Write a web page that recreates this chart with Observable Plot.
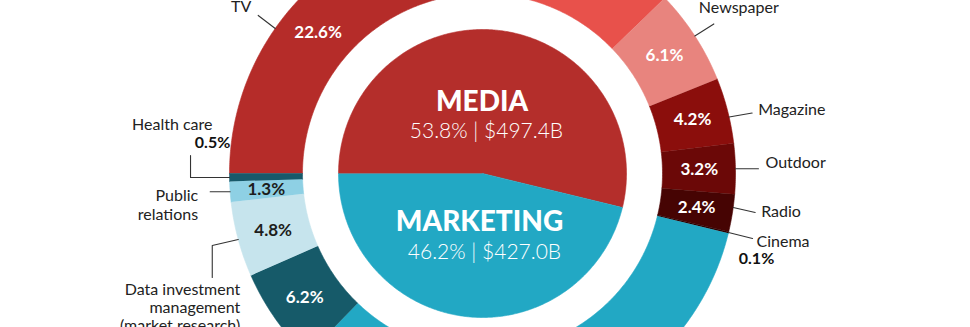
<!DOCTYPE html>
<html>
<head>
<meta charset="utf-8">
<script src="https://cdn.jsdelivr.net/npm/d3@7"></script>
<script src="https://cdn.jsdelivr.net/npm/@observablehq/plot@0.6"></script>
<style>
html,body{margin:0;padding:0;background:#fff;overflow:hidden}
#chart svg{display:block}
</style>
</head>
<body>
<div id="chart"></div>
<script>
// ---------- data ----------
const groupNames = ["MEDIA", "MARKETING"];
const groupShares = [53.8, 46.2];
const groupValues = ["$497.4B", "$427.0B"];

const mediaCategories = ["TV", "Digital", "Newspaper", "Magazine", "Outdoor", "Radio", "Cinema"];
const mediaShares = [22.6, 15.2, 6.1, 4.2, 3.2, 2.4, 0.1];

// clockwise, continuing after Cinema, ending back at the left
const marketingCategories = ["Other marketing", "Marketing (unlabelled)", "Data investment management (market research)", "Public relations", "Health care"];
const marketingShares = [33.4, 6.2, 4.8, 1.3, 0.5];

// ---------- styles ----------
const groupColors = ["#b42e2b", "#22a8c4"];
const mediaColors = ["#b52c29", "#e8514b", "#e8847e", "#8b0e0c", "#6b0807", "#460403", "#2a0202"];
const marketingColors = ["#22a8c4", "#165a69", "#c6e4ed", "#8ed0e4", "#17596a"];
const mediaLabelColors = ["#fff", null, "#fff", "#fff", "#fff", "#fff", null];
const marketingLabelColors = [null, "#fff", "#1d1d1b", "#1d1d1b", null];

// ---------- layout ----------
const W = 970, H = 327, CX = 482, CY = 173, PX = 253; // px per unit (outer radius)
const rPie = 144 / PX, rIn = 180 / PX, rOut = 1, rLab = 0.857;
const START = -90; // degrees clockwise from top: ring starts at the left

const rad = d => d * Math.PI / 180;
const pt = (ang, r) => [r * Math.sin(rad(ang)), r * Math.cos(rad(ang))];
const off = ([x, y], dx, dy) => [x + dx / PX, y - dy / PX];

// ring segments
const segments = [];
let cum = 0;
mediaCategories.forEach((c, i) => {
  segments.push({cat: c, share: mediaShares[i], a0: START + cum * 3.6, a1: START + (cum + mediaShares[i]) * 3.6, color: mediaColors[i], lab: mediaLabelColors[i]});
  cum += mediaShares[i];
});
marketingCategories.forEach((c, i) => {
  segments.push({cat: c, share: marketingShares[i], a0: START + cum * 3.6, a1: START + (cum + marketingShares[i]) * 3.6, color: marketingColors[i], lab: marketingLabelColors[i]});
  cum += marketingShares[i];
});
const seg = c => segments.find(s => s.cat === c);

const polys = [];
function arcPts(a0, a1, r) {
  const n = Math.max(2, Math.ceil(Math.abs(a1 - a0) / 0.5));
  return d3.range(n + 1).map(k => pt(a0 + (a1 - a0) * k / n, r));
}
segments.forEach((s, i) => {
  const pts = [...arcPts(s.a0, s.a1, rOut), ...arcPts(s.a1, s.a0, rIn)];
  pts.forEach(([x, y]) => polys.push({id: "s" + i, x, y, color: s.color}));
});
// inner pie
let gcum = 0;
const groupArcs = groupNames.map((g, i) => {
  const a0 = START + gcum * 3.6, a1 = START + (gcum + groupShares[i]) * 3.6;
  gcum += groupShares[i];
  return {a0, a1};
});
groupArcs.forEach((g, i) => {
  const pts = [[0, 0], ...arcPts(g.a0, g.a1, rPie)];
  pts.forEach(([x, y]) => polys.push({id: "g" + i, x, y, color: groupColors[i]}));
});

// percentage labels inside the ring
const inLabels = segments.filter(s => s.lab).map(s => {
  const [x, y] = pt((s.a0 + s.a1) / 2, rLab);
  return {x, y, text: s.share.toFixed(1) + "%", color: s.lab};
});

// callouts: leader path offsets (px) from the ring edge, label offsets (px)
const callouts = [
  {cat: "TV", at: 0.43, path: [[-17, -13]], t: [-24, -23], anchor: "end", text: "TV"},
  {cat: "Newspaper", at: 0.5, path: [[19, -12]], t: [4, -28], anchor: "start", text: "Newspaper"},
  {cat: "Magazine", at: 0.6, path: [[23, -4]], t: [29, -7], anchor: "start", text: "Magazine"},
  {cat: "Outdoor", at: 0.5, path: [[23, 0]], t: [30, -6], anchor: "start", text: "Outdoor"},
  {cat: "Radio", at: 0.35, path: [[22, 5]], t: [28, 4], anchor: "start", text: "Radio"},
  {cat: "Cinema", at: 0.5, path: [[24, 6]], t: [28, 9], anchor: "start", text: "Cinema", v: [28, 26]},
  {cat: "Health care", at: 0.5, path: [[-39, 0], [-39, -22]], t: [-17, -54], anchor: "end", text: "Health care", v: [-17, -35]},
  {cat: "Public relations", at: 0.5, path: [[-20, 0]], t: [-32, 12.5], anchor: "end", text: "Public\nrelations"},
  {cat: "Data investment management (market research)", at: 0.5, path: [[-26, 6], [-26, 38]], t: [2, 42], anchor: "end", text: "Data investment\nmanagement\n(market research)", la: "top"}
];
const leaders = [], outLabels = [], outValues = [];
callouts.forEach((c, i) => {
  const s = seg(c.cat);
  const p0 = pt(s.a0 + (s.a1 - s.a0) * c.at, rOut);
  [p0, ...c.path.map(([dx, dy]) => off(p0, dx, dy))].forEach(([x, y]) => leaders.push({id: i, x, y}));
  const [tx, ty] = off(p0, ...c.t);
  outLabels.push({x: tx, y: ty, text: c.text, anchor: c.anchor, la: c.la || "middle"});
  if (c.v) {
    const [vx, vy] = off(p0, ...c.v);
    outValues.push({x: vx, y: vy, text: s.share.toFixed(1) + "%", anchor: c.anchor});
  }
});

// centre titles
const centreTitles = groupNames.map((g, i) => ({x: [-0.5, -3][i] / PX, y: [71, -49][i] / PX, text: g}));
const centreSubs = groupNames.map((g, i) => ({x: [4, 2][i] / PX, y: [42, -79][i] / PX, text: groupShares[i].toFixed(1) + "% | " + groupValues[i]}));

const font = "Lato, 'Open Sans', sans-serif";
const chart = Plot.plot({
  width: W, height: H,
  margin: 0,
  style: {fontFamily: font, background: "#fff"},
  x: {domain: [-CX / PX, (W - CX) / PX], range: [0, W], axis: null},
  y: {domain: [-(H - CY) / PX, CY / PX], range: [H, 0], axis: null},
  color: {type: "identity"},
  marks: [
    Plot.line(polys, {x: "x", y: "y", z: "id", fill: "color", stroke: "color", strokeWidth: 0.6, curve: "linear"}),
    Plot.line(leaders, {x: "x", y: "y", z: "id", stroke: "#333", strokeWidth: 1.1, curve: "linear"}),
    Plot.text(inLabels, {x: "x", y: "y", text: "text", fill: "color", fontSize: 17, fontWeight: "bold"}),
    Plot.text(outLabels.filter(d => d.anchor === "start"), {x: "x", y: "y", text: "text", textAnchor: "start", lineAnchor: "middle", fill: "#222", fontSize: 16}),
    Plot.text(outLabels.filter(d => d.anchor === "end" && d.la === "middle"), {x: "x", y: "y", text: "text", textAnchor: "end", lineAnchor: "middle", lineHeight: 1.2, fill: "#222", fontSize: 16}),
    Plot.text(outLabels.filter(d => d.la === "top"), {x: "x", y: "y", text: "text", textAnchor: "end", lineAnchor: "top", lineHeight: 1.15, fill: "#222", fontSize: 16}),
    Plot.text(outValues, {x: "x", y: "y", text: "text", textAnchor: (d) => d.anchor, fill: "#111", fontSize: 16, fontWeight: "bold"}),
    Plot.text(centreTitles, {x: "x", y: "y", text: "text", fill: "#fff", fontSize: 28, fontWeight: 900}),
    Plot.text(centreSubs, {x: "x", y: "y", text: "text", fill: "#fff", fontSize: 21, fontWeight: 300})
  ]
});
document.getElementById("chart").append(chart);
</script>
</body>
</html>
